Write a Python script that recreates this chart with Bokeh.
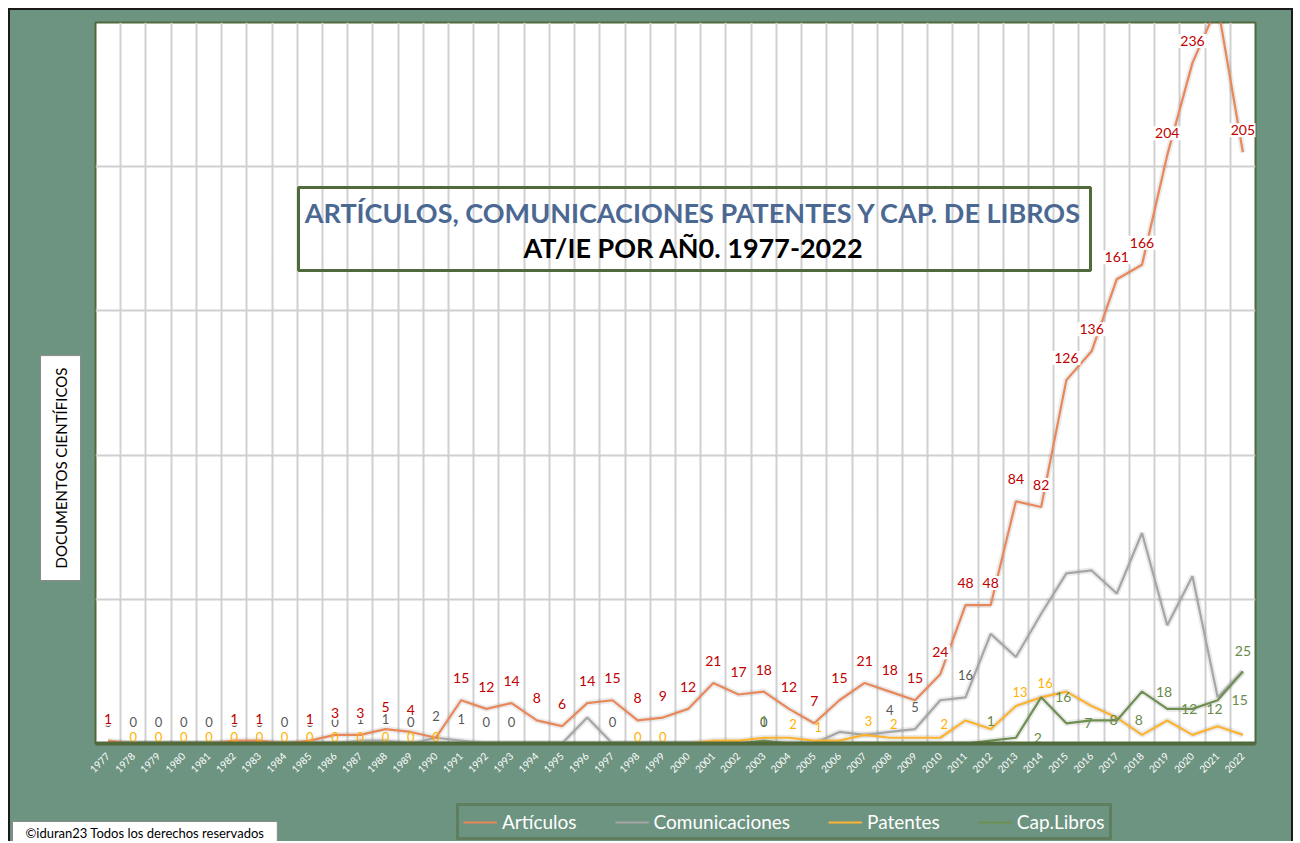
import math
from bokeh.plotting import figure
from bokeh.layouts import column
from bokeh.models import (ColumnDataSource, Range1d, FixedTicker, Label, Legend,
                          LegendItem, BoxAnnotation, Title)
from bokeh.core.properties import value
from bokeh.embed import file_html
from bokeh.resources import INLINE

# ---------------- data ----------------
years = list(range(1977, 2023))
articulos = [1, 0, 0, 0, 0, 1, 1, 0, 1, 3,
             3, 5, 4, 2, 15, 12, 14, 8, 6, 14,
             15, 8, 9, 12, 21, 17, 18, 12, 7, 15,
             21, 18, 15, 24, 48, 48, 84, 82, 126, 136,
             161, 166, 204, 236, 256, 205]
comunicaciones = [0, 0, 0, 0, 0, 0, 0, 0, 0, 0,
                  1, 1, 0, 2, 1, 0, 0, 0, 0, 9,
                  0, 0, 0, 0, 0, 0, 0, 0, 0, 4,
                  3, 4, 5, 15, 16, 38, 30, 45, 59, 60,
                  52, 73, 41, 58, 16, 25]
patentes = [0, 0, 0, 0, 0, 0, 0, 0, 0, 0,
            0, 0, 0, 0, 0, 0, 0, 0, 0, 0,
            0, 0, 0, 0, 1, 1, 2, 2, 1, 1,
            3, 2, 2, 2, 8, 5, 13, 16, 18, 13,
            9, 3, 8, 3, 6, 3]
cap_libros = [0, 0, 0, 0, 0, 0, 0, 0, 0, 0,
              0, 0, 0, 0, 0, 0, 0, 0, 0, 0,
              0, 0, 0, 0, 0, 0, 1, 0, 0, 0,
              0, 0, 0, 0, 0, 1, 2, 16, 7, 8,
              8, 18, 12, 12, 15, 25]
y_gridlines = [50, 100, 150, 200, 250]

art_label_years = [1977, 1982, 1983, 1985, 1986, 1987, 1988, 1989] + list(range(1991, 2021)) + [2022]
com_label_years = list(range(1977, 1994)) + [1997, 2003, 2008, 2009, 2011]
pat_label_years = list(range(1978, 1991)) + [1998, 1999, 2004, 2005, 2007, 2008, 2010, 2013, 2014]
cap_label_years = [2003, 2012, 2013, 2014, 2015, 2016, 2017, 2018, 2019, 2020, 2021, 2022]

series_names = ["Artículos", "Comunicaciones", "Patentes", "Cap.Libros"]
title_line1 = "ARTÍCULOS, COMUNICACIONES PATENTES Y CAP. DE LIBROS"
title_line2 = "AT/IE POR AÑ0. 1977-2022"
y_title = "DOCUMENTOS CIENTÍFICOS"
copyright_text = "©iduran23 Todos los derechos reservados"

# ---------------- style ----------------
BG = "#6d9381"
DARK_GREEN = "#506a3c"
FONT = "Lato"
C_ART, C_COM, C_PAT, C_CAP = "#e8885a", "#a6a6a6", "#fbb330", "#6f8f52"
L_ART, L_COM, L_PAT, L_CAP = "#c00000", "#595959", "#ffb000", "#6a8a4a"
colors = [C_ART, C_COM, C_PAT, C_CAP]

p = figure(width=1281, height=778, frame_width=1160, frame_height=721,
           x_range=Range1d(1976.5, 2022.5), y_range=Range1d(0, 250),
           output_backend="svg", toolbar_location=None,
           min_border_left=85, min_border_right=36, min_border_top=12, min_border_bottom=45,
           background_fill_color="white", border_fill_color=BG)

p.yaxis.visible = False
p.xaxis.ticker = FixedTicker(ticks=years)
p.xaxis.major_label_orientation = math.pi / 4
p.xaxis.major_label_text_color = "white"
p.xaxis.major_label_text_font = FONT
p.xaxis.major_label_text_font_size = "10px"
p.xaxis.major_tick_line_color = None
p.xaxis.minor_tick_line_color = None
p.xaxis.axis_line_color = DARK_GREEN
p.xaxis.axis_line_width = 4

p.xgrid.ticker = FixedTicker(ticks=[y - 0.5 for y in years] + [years[-1] + 0.5])
p.ygrid.ticker = FixedTicker(ticks=y_gridlines)
p.grid.grid_line_color = "#d0d0d0"
p.grid.grid_line_width = 2
p.outline_line_color = DARK_GREEN
p.outline_line_width = 2

src = ColumnDataSource(dict(year=years, art=articulos, com=comunicaciones,
                            pat=patentes, cap=cap_libros))
# soft shadow under the lines (as in the original chart)
for col in ["com", "pat", "cap", "art"]:
    p.line("year", col, source=src, line_color="black", line_alpha=0.08, line_width=6)
r_com = p.line("year", "com", source=src, line_color=C_COM, line_width=2.2)
r_pat = p.line("year", "pat", source=src, line_color=C_PAT, line_width=2.2)
r_cap = p.line("year", "cap", source=src, line_color=C_CAP, line_width=2.2)
r_art = p.line("year", "art", source=src, line_color=C_ART, line_width=2.2)


def label_source(label_years, vals, offsets):
    xs, ys, ts, xo, yo = [], [], [], [], []
    for yr in label_years:
        v = vals[years.index(yr)]
        dx, dy = offsets(yr, v)
        xs.append(yr); ys.append(v); ts.append(str(v)); xo.append(dx); yo.append(dy)
    return ColumnDataSource(dict(x=xs, y=ys, t=ts, xo=xo, yo=yo))


def add_labels(source, color, boxed=False, size="14px"):
    kw = dict(background_fill_color="white", padding=2) if boxed else {}
    p.text(x="x", y="y", text="t", source=source, x_offset="xo", y_offset="yo",
           text_color=color, text_font=value(FONT), text_font_size=size,
           text_align="center", text_baseline="middle", **kw)


add_labels(label_source(com_label_years, comunicaciones, lambda yr, v: (0, -22)), L_COM, size="13px")
add_labels(label_source(pat_label_years, patentes,
                        lambda yr, v: (0, -7) if v == 0 else (4, -14)), L_PAT, size="13px")
add_labels(label_source(cap_label_years, cap_libros,
                        lambda yr, v: (0, -20) if (v <= 1 or yr == years[-1]) else (22, 0)), L_CAP, size="14px")
add_labels(label_source(art_label_years, articulos, lambda yr, v: (0, -22)), L_ART, boxed=True, size="14px")

# title box inside the plot
p.add_layout(BoxAnnotation(left=203, right=995, bottom=473, top=556,
                           left_units="screen", right_units="screen",
                           bottom_units="screen", top_units="screen",
                           fill_alpha=0, line_color=DARK_GREEN, line_alpha=1, line_width=3))
p.add_layout(Label(x=598, y=531, x_units="screen", y_units="screen", text=title_line1,
                   text_align="center", text_baseline="middle", text_font=FONT,
                   text_font_style="bold", text_font_size="27px", text_color="#4b6893"))
p.add_layout(Label(x=598, y=496, x_units="screen", y_units="screen", text=title_line2,
                   text_align="center", text_baseline="middle", text_font=FONT,
                   text_font_style="bold", text_font_size="27px", text_color="black"))

# y-axis title in a white box (left panel)
p.add_layout(Title(text=y_title, align="left", offset=163, standoff=30,
                   text_font=FONT, text_font_size="15px", text_font_style="normal",
                   text_color="black", background_fill_color="white",
                   border_line_color="#8a8a8a", padding=(12, 11)), "left")

# ---------------- bottom strip: legend + copyright ----------------
aligned = True
q = figure(width=1281, height=53, x_range=Range1d(0, 1), y_range=Range1d(0, 1),
           output_backend="svg", toolbar_location=None,
           min_border_left=0, min_border_right=0, min_border_top=0, min_border_bottom=0,
           background_fill_color=BG, border_fill_color=BG, outline_line_color=None)
try:
    q.frame_align = False
    aligned = False
except AttributeError:
    q.min_border_left = 85
    q.min_border_right = 36
q.axis.visible = False
q.grid.visible = False
nan = float("nan")
# legend-key renderers only (no visible data in this strip)
legend_renderers = [q.line(x=[nan, nan], y=[nan, nan], line_color=c, line_width=2.2) for c in colors]
legend = Legend(items=[LegendItem(label=n, renderers=[r]) for n, r in zip(series_names, legend_renderers)],
                orientation="horizontal", location=(361 if aligned else 446, 1), margin=0,
                background_fill_color=BG, background_fill_alpha=1,
                border_line_color=DARK_GREEN, border_line_width=3,
                label_text_color="white", label_text_font=FONT, label_text_font_size="19px",
                glyph_width=34, glyph_height=18, label_height=18, label_standoff=5,
                spacing=38, padding=4)
q.add_layout(legend)
q.add_layout(Label(x=0 if aligned else 2, y=-2, x_units="screen", y_units="screen", text=copyright_text,
                   text_align="left", text_baseline="bottom", text_font=FONT,
                   text_font_size="13px", text_color="black",
                   background_fill_color="white", border_line_color="#8a8a8a",
                   padding=(13, 3)))

layout = column(p, q, spacing=0,
                styles={"margin-left": "8px", "margin-top": "8px", "border": "2px solid #1a1a1a",
                        "border-bottom": "none", "background-color": BG})

open("out.html", "w").write(file_html(layout, INLINE))
